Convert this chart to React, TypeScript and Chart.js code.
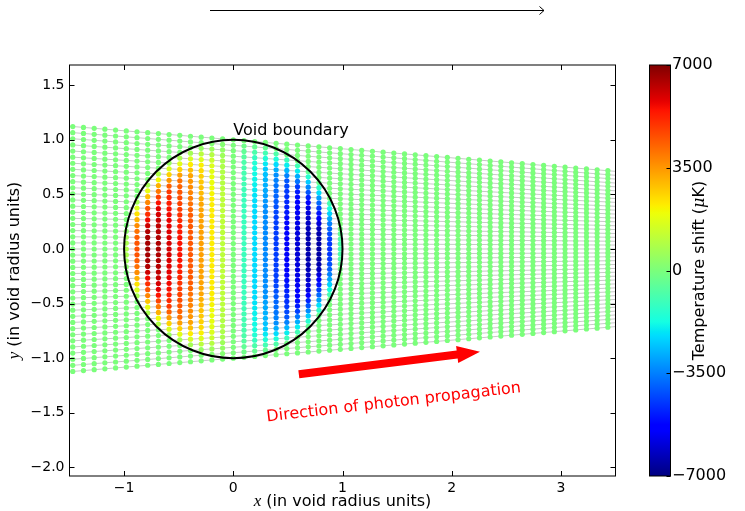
import React, { useEffect, useRef } from 'react';
import { Chart, registerables } from 'chart.js';

Chart.register(...registerables);

// ---------- data ----------
const xRange = [-1.5, 3.5];
const yRange = [-2.079, 1.685];
const tempRange = [-7000, 7000];
const xTicks = [-1, 0, 1, 2, 3];
const yTicks = [-2, -1.5, -1, -0.5, 0, 0.5, 1, 1.5];
const colorbarTicks = [-7000, -3500, 0, 3500, 7000];

// x positions of the sample points along every photon path
const columnX = [
  -1.47, -1.372, -1.274, -1.176, -1.078, -0.98, -0.882, -0.784, -0.686, -0.588,
  -0.49, -0.392, -0.294, -0.196, -0.098, 0, 0.098, 0.196, 0.294, 0.392,
  0.49, 0.588, 0.686, 0.784, 0.882, 0.98, 1.078, 1.176, 1.274, 1.372,
  1.47, 1.568, 1.666, 1.764, 1.862, 1.96, 2.058, 2.156, 2.254, 2.352,
  2.45, 2.548, 2.646, 2.744, 2.842, 2.94, 3.038, 3.136, 3.234, 3.332, 3.43,
];

// photon paths: y at the left edge (x = -1.5) and right edge (x = 3.5)
const rayYAtLeft = [
  1.124, 1.068, 1.012, 0.955, 0.899, 0.843, 0.787, 0.731, 0.674, 0.618,
  0.562, 0.506, 0.45, 0.393, 0.337, 0.281, 0.225, 0.169, 0.112, 0.056, 0,
  -0.056, -0.112, -0.169, -0.225, -0.281, -0.337, -0.393, -0.45, -0.506, -0.562,
  -0.618, -0.674, -0.731, -0.787, -0.843, -0.899, -0.955, -1.012, -1.068, -1.124,
];
const rayYAtRight = [
  0.711, 0.675, 0.64, 0.604, 0.569, 0.533, 0.498, 0.462, 0.427, 0.391,
  0.356, 0.32, 0.284, 0.249, 0.213, 0.178, 0.142, 0.107, 0.071, 0.036, 0,
  -0.036, -0.071, -0.107, -0.142, -0.178, -0.213, -0.249, -0.284, -0.32, -0.356,
  -0.391, -0.427, -0.462, -0.498, -0.533, -0.569, -0.604, -0.64, -0.675, -0.711,
];

// temperature shift inside the void: T = -x * amplitude(r) (µK)
const profileR = [0, 0.3, 0.5, 0.6, 0.7, 0.8, 0.9, 0.95, 1.0];
const profileAmp = [11000, 11500, 11200, 10000, 9300, 8200, 4500, 2200, 0];
const voidRadius = 1;

// annotations (data coordinates)
const arrowTail = [0.6, -1.147];
const arrowHead = [2.259, -0.94];
const voidLabelPos = [0.0, 1.044];
const directionLabelPos = [0.309, -1.58];

// ---------- helpers ----------
function interp(xs: number[], ys: number[], x: number) {
  if (x <= xs[0]) return ys[0];
  for (let i = 1; i < xs.length; i++) {
    if (x <= xs[i]) {
      const t = (x - xs[i - 1]) / (xs[i] - xs[i - 1]);
      return ys[i - 1] + t * (ys[i] - ys[i - 1]);
    }
  }
  return ys[ys.length - 1];
}
function jet(v: number) {
  const r = interp([0, 0.35, 0.66, 0.89, 1], [0, 0, 1, 1, 0.5], v);
  const g = interp([0, 0.125, 0.375, 0.64, 0.91, 1], [0, 0, 1, 1, 0, 0], v);
  const b = interp([0, 0.11, 0.34, 0.65, 1], [0.5, 1, 1, 0, 0], v);
  return `rgb(${Math.round(r * 255)},${Math.round(g * 255)},${Math.round(b * 255)})`;
}
const fmtMinus = (s: string) => s.replace('-', '\u2212');
const SANS = '"DejaVu Sans", sans-serif';
const SERIF_IT = 'italic 17px "Liberation Serif", "DejaVu Serif", serif';

function drawMixed(ctx: CanvasRenderingContext2D, parts: [string, string][], cx: number, cy: number, rot: number) {
  ctx.save();
  ctx.translate(cx, cy);
  ctx.rotate(rot);
  let total = 0;
  const widths = parts.map(([t, f]) => { ctx.font = f; const w = ctx.measureText(t).width; total += w; return w; });
  let x = -total / 2;
  ctx.textBaseline = 'middle';
  ctx.textAlign = 'left';
  ctx.fillStyle = '#000';
  parts.forEach(([t, f], i) => { ctx.font = f; ctx.fillText(t, x, 0); x += widths[i]; });
  ctx.restore();
}

const decorPlugin = {
  id: 'decor',
  afterDatasetsDraw(chart: any) {
    const { ctx, chartArea } = chart;
    const xs = chart.scales.x, ys = chart.scales.y;
    ctx.save();
    ctx.beginPath();
    ctx.rect(chartArea.left, chartArea.top, chartArea.right - chartArea.left, chartArea.bottom - chartArea.top);
    ctx.clip();
    // void boundary
    const cx = xs.getPixelForValue(0), cy = ys.getPixelForValue(0);
    const rx = xs.getPixelForValue(voidRadius) - cx;
    const ry = cy - ys.getPixelForValue(voidRadius);
    ctx.beginPath();
    ctx.ellipse(cx, cy, rx, ry, 0, 0, Math.PI * 2);
    ctx.lineWidth = 2;
    ctx.strokeStyle = '#000';
    ctx.stroke();
    // red arrow
    const tx = xs.getPixelForValue(arrowTail[0]), ty = ys.getPixelForValue(arrowTail[1]);
    const hx = xs.getPixelForValue(arrowHead[0]), hy = ys.getPixelForValue(arrowHead[1]);
    const ang = Math.atan2(hy - ty, hx - tx);
    const len = Math.hypot(hx - tx, hy - ty);
    const sw = 4, hw = 8.5, hl = 23;
    ctx.save();
    ctx.translate(tx, ty);
    ctx.rotate(ang);
    ctx.beginPath();
    ctx.moveTo(0, -sw);
    ctx.lineTo(len - hl, -sw);
    ctx.lineTo(len - hl, -hw);
    ctx.lineTo(len, 0);
    ctx.lineTo(len - hl, hw);
    ctx.lineTo(len - hl, sw);
    ctx.lineTo(0, sw);
    ctx.closePath();
    ctx.fillStyle = '#ff0000';
    ctx.fill();
    ctx.restore();
    // labels
    ctx.font = `16px ${SANS}`;
    ctx.fillStyle = '#000';
    ctx.textAlign = 'left';
    ctx.textBaseline = 'alphabetic';
    ctx.fillText('Void boundary', xs.getPixelForValue(voidLabelPos[0]), ys.getPixelForValue(voidLabelPos[1]));
    ctx.save();
    ctx.translate(xs.getPixelForValue(directionLabelPos[0]), ys.getPixelForValue(directionLabelPos[1]));
    ctx.rotate(-6.6 * Math.PI / 180);
    ctx.fillStyle = '#ff0000';
    ctx.fillText('Direction of photon propagation', 0, 0);
    ctx.restore();
    ctx.restore();
  },
  afterDraw(chart: any) {
    const { ctx, chartArea } = chart;
    const xs = chart.scales.x, ys = chart.scales.y;
    const { left, right, top, bottom } = chartArea;
    ctx.save();
    ctx.strokeStyle = '#000';
    ctx.lineWidth = 1;
    // frame
    ctx.strokeRect(left, top, right - left, bottom - top);
    // inward ticks on all sides
    const tl = 5;
    ctx.beginPath();
    xTicks.forEach((v) => {
      const p = Math.round(xs.getPixelForValue(v)) + 0.5;
      ctx.moveTo(p, bottom); ctx.lineTo(p, bottom - tl);
      ctx.moveTo(p, top); ctx.lineTo(p, top + tl);
    });
    yTicks.forEach((v) => {
      const p = Math.round(ys.getPixelForValue(v)) + 0.5;
      ctx.moveTo(left, p); ctx.lineTo(left + tl, p);
      ctx.moveTo(right, p); ctx.lineTo(right - tl, p);
    });
    ctx.stroke();

    // axis titles
    drawMixed(ctx, [['x', SERIF_IT], [' (in void radius units)', `16px ${SANS}`]], (left + right) / 2, 502, 0);
    drawMixed(ctx, [['y', SERIF_IT], [' (in void radius units)', `16px ${SANS}`]], 15, (top + bottom) / 2, -Math.PI / 2);

    // colorbar
    const cbL = 649.5, cbW = 21;
    const grad = ctx.createLinearGradient(0, bottom, 0, top);
    for (let i = 0; i <= 128; i++) grad.addColorStop(i / 128, jet(i / 128));
    ctx.fillStyle = grad;
    ctx.fillRect(cbL, top, cbW, bottom - top);
    ctx.strokeRect(cbL, top, cbW, bottom - top);
    const cbPix = (v: number) => bottom - (v - tempRange[0]) / (tempRange[1] - tempRange[0]) * (bottom - top);
    ctx.beginPath();
    colorbarTicks.forEach((v) => {
      const p = Math.round(cbPix(v)) + 0.5;
      ctx.moveTo(cbL + cbW, p); ctx.lineTo(cbL + cbW - 4, p);
    });
    ctx.stroke();
    ctx.font = `16px ${SANS}`;
    ctx.fillStyle = '#000';
    ctx.textAlign = 'left';
    ctx.textBaseline = 'middle';
    colorbarTicks.forEach((v) => ctx.fillText(fmtMinus(String(v)), 672, cbPix(v)));
    drawMixed(ctx, [['Temperature shift (', `16px ${SANS}`], ['\u03bc', 'italic 16px "DejaVu Serif", serif'], ['K)', `16px ${SANS}`]], 700, (top + bottom) / 2, -Math.PI / 2);

    // top arrow
    ctx.beginPath();
    ctx.moveTo(210, 10.5); ctx.lineTo(544, 10.5);
    ctx.moveTo(539.5, 6.5); ctx.lineTo(544, 10.5); ctx.lineTo(539.5, 14.5);
    ctx.stroke();
    ctx.restore();
  },
};

export default function App() {
  const ref = useRef<HTMLCanvasElement | null>(null);
  useEffect(() => {
    if (!ref.current) return;
    const points: { x: number; y: number }[] = [];
    const colors: string[] = [];
    for (let r = 0; r < rayYAtLeft.length; r++) {
      for (const x of columnX) {
        const y = rayYAtLeft[r] + (x - xRange[0]) / (xRange[1] - xRange[0]) * (rayYAtRight[r] - rayYAtLeft[r]);
        const rad = Math.hypot(x, y);
        const T = rad < voidRadius ? -x * interp(profileR, profileAmp, rad) : 0;
        points.push({ x, y });
        colors.push(jet((T - tempRange[0]) / (tempRange[1] - tempRange[0])));
      }
    }
    const rays = rayYAtLeft.map((yl, i) => ({
      type: 'line' as const,
      data: [{ x: xRange[0], y: yl }, { x: xRange[1], y: rayYAtRight[i] }],
      borderColor: '#c8c8c8',
      borderWidth: 1,
      pointRadius: 0,
      order: 1,
    }));
    const chart = new Chart(ref.current, {
      type: 'scatter',
      data: {
        datasets: [
          {
            type: 'scatter',
            data: points,
            pointBackgroundColor: colors,
            pointBorderWidth: 0,
            pointRadius: 2.6,
            order: 0,
          } as any,
          ...rays,
        ],
      },
      options: {
        animation: false,
        responsive: false,
        devicePixelRatio: 1,
        events: [],
        layout: { padding: { top: 65, right: 129.5, bottom: 0, left: 0 } },
        plugins: { legend: { display: false }, tooltip: { enabled: false } },
        scales: {
          x: {
            type: 'linear',
            min: xRange[0],
            max: xRange[1],
            grid: { display: false, drawTicks: false },
            border: { display: false },
            afterFit: (s: any) => { s.height = 35; },
            afterBuildTicks: (s: any) => { s.ticks = xTicks.map((v) => ({ value: v })); },
            ticks: {
              padding: 4,
              color: '#000',
              font: { family: 'DejaVu Sans', size: 14 },
              callback: (v: any) => fmtMinus(String(v)),
            },
          },
          y: {
            type: 'linear',
            min: yRange[0],
            max: yRange[1],
            grid: { display: false, drawTicks: false },
            border: { display: false },
            afterFit: (s: any) => { s.width = 69.5; },
            afterBuildTicks: (s: any) => { s.ticks = yTicks.map((v) => ({ value: v })); },
            ticks: {
              padding: 5,
              color: '#000',
              font: { family: 'DejaVu Sans', size: 14 },
              callback: (v: any) => fmtMinus(Number(v).toFixed(1)),
            },
          },
        },
      },
      plugins: [decorPlugin],
    } as any);
    return () => chart.destroy();
  }, []);
  return (
    <div style={{ position: 'absolute', left: 0, top: 0, width: 745, height: 511, background: '#fff' }}>
      <canvas ref={ref} width={745} height={511} style={{ width: 745, height: 511 }} />
    </div>
  );
}
